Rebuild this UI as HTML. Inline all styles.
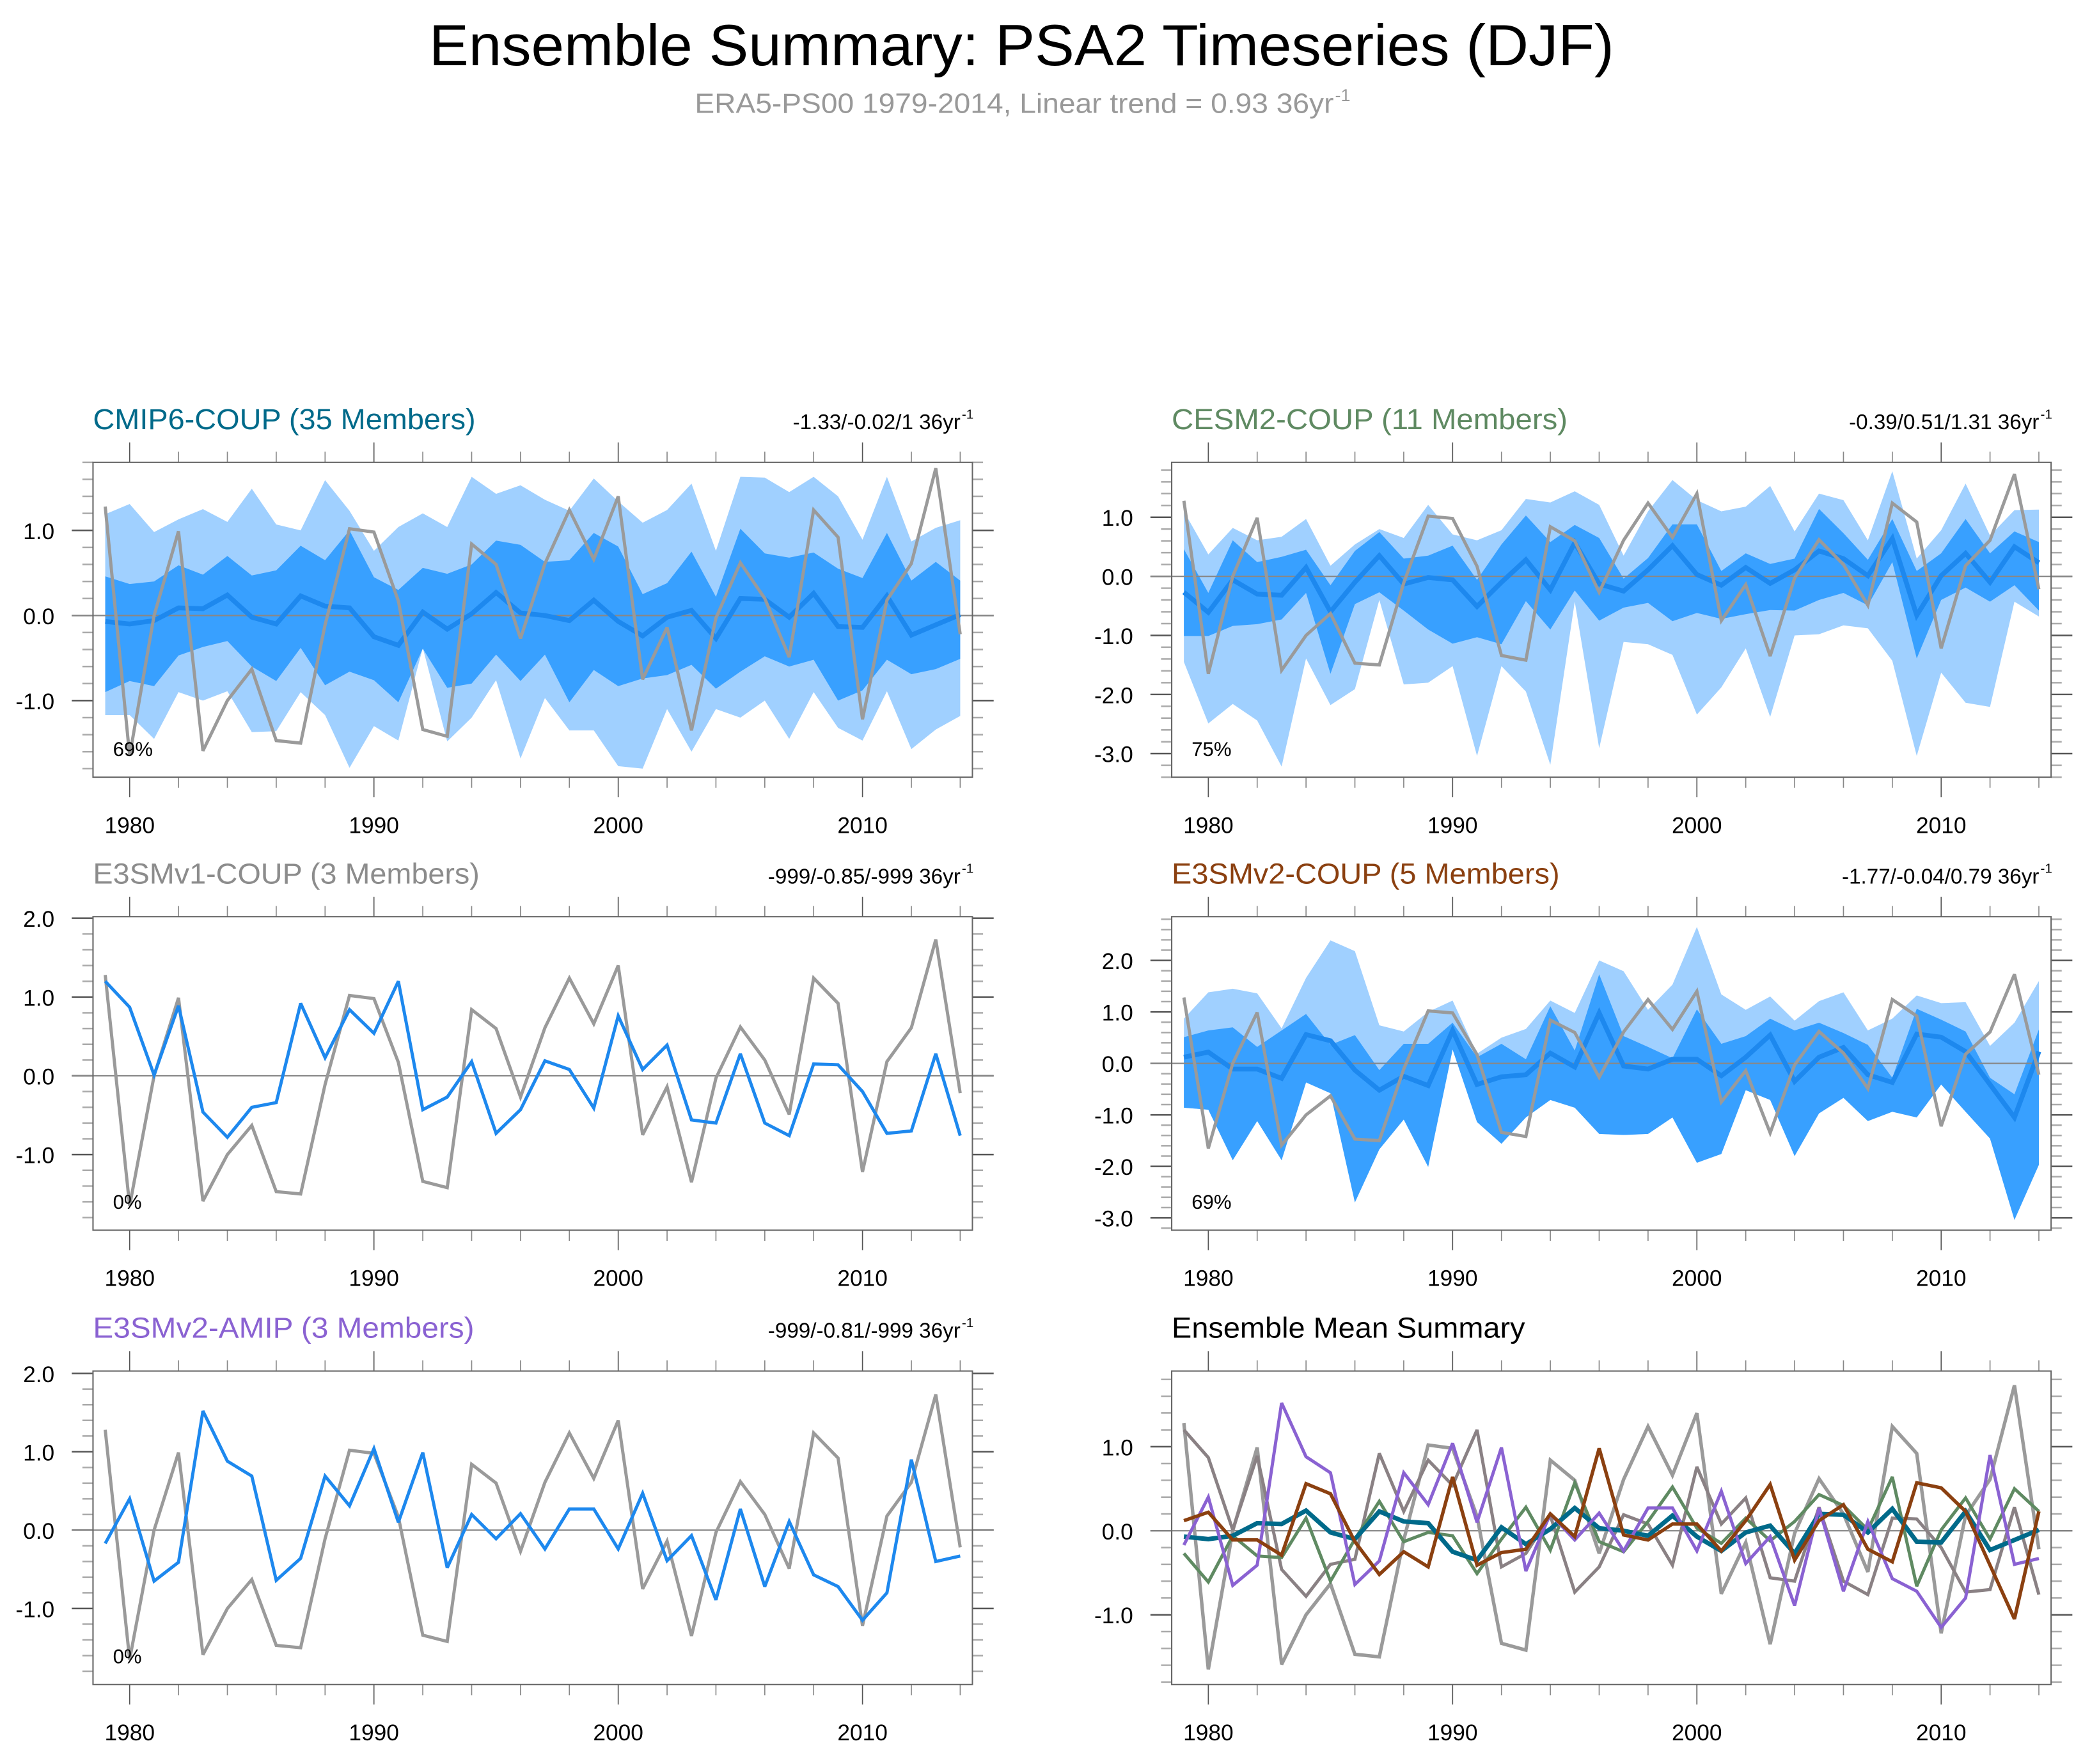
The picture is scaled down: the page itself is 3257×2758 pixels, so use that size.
<!DOCTYPE html>
<html><head><meta charset="utf-8"><title>Ensemble Summary: PSA2 Timeseries (DJF)</title>
<style>html,body{margin:0;padding:0;background:#fff}svg{display:block}text{font-family:"Liberation Sans",Arial,sans-serif}</style>
</head><body>
<svg id="fig" xmlns="http://www.w3.org/2000/svg" width="3257" height="2758" viewBox="0 0 1568 1327.8">
<rect x="0" y="0" width="1568" height="1328" fill="#fff"/>
<text x="769" y="49" font-size="44" text-anchor="middle" textLength="892" lengthAdjust="spacingAndGlyphs">Ensemble Summary: PSA2 Timeseries (DJF)</text>
<text x="523" y="85" font-size="21" fill="#999" textLength="481" lengthAdjust="spacingAndGlyphs">ERA5-PS00 1979-2014, Linear trend = 0.93 36yr</text>
<text x="1005" y="76" font-size="13" fill="#999">-1</text>
<g id="panels"></g>
</svg>
<script>
const years=[1979,1980,1981,1982,1983,1984,1985,1986,1987,1988,1989,1990,1991,1992,1993,1994,1995,1996,1997,1998,1999,2000,2001,2002,2003,2004,2005,2006,2007,2008,2009,2010,2011,2012,2013,2014];
const obs=[1.28,-1.65,0.0,0.99,-1.59,-1.0,-0.63,-1.47,-1.5,-0.11,1.02,0.98,0.17,-1.34,-1.42,0.84,0.6,-0.27,0.61,1.24,0.66,1.4,-0.75,-0.14,-1.35,-0.03,0.62,0.2,-0.49,1.24,0.92,-1.22,0.18,0.61,1.73,-0.22];
const cmip6Mean=[-0.07,-0.1,-0.06,0.09,0.08,0.24,-0.02,-0.1,0.23,0.11,0.09,-0.25,-0.35,0.04,-0.16,0.02,0.27,0.03,0.0,-0.06,0.18,-0.07,-0.24,-0.02,0.06,-0.27,0.2,0.19,-0.02,0.26,-0.13,-0.14,0.23,-0.23,-0.11,0.01];
const cmip6DarkHi=[0.46,0.37,0.4,0.59,0.48,0.70,0.47,0.53,0.82,0.65,1.0,0.45,0.3,0.56,0.49,0.6,0.88,0.83,0.63,0.65,0.97,0.81,0.25,0.38,0.75,0.22,1.02,0.73,0.68,0.74,0.55,0.44,0.97,0.41,0.63,0.41];
const cmip6DarkLo=[-0.9,-0.77,-0.83,-0.47,-0.37,-0.3,-0.6,-0.77,-0.38,-0.82,-0.66,-0.76,-1.02,-0.39,-0.85,-0.8,-0.46,-0.77,-0.46,-1.02,-0.64,-0.83,-0.74,-0.7,-0.58,-0.86,-0.66,-0.48,-0.6,-0.52,-1.0,-0.88,-0.52,-0.69,-0.63,-0.51];
const cmip6LightHi=[1.19,1.31,0.98,1.13,1.25,1.1,1.49,1.07,1.0,1.59,1.23,0.76,1.04,1.2,1.04,1.63,1.43,1.53,1.36,1.23,1.61,1.34,1.09,1.24,1.55,0.76,1.63,1.62,1.45,1.63,1.4,0.89,1.63,0.87,1.03,1.12];
const cmip6LightLo=[-1.17,-1.17,-1.45,-0.9,-1.0,-0.89,-1.37,-1.36,-0.9,-1.17,-1.79,-1.3,-1.47,-0.38,-1.48,-1.2,-0.76,-1.68,-0.97,-1.35,-1.35,-1.77,-1.8,-1.1,-1.6,-1.1,-1.2,-1.0,-1.45,-0.9,-1.32,-1.47,-0.89,-1.57,-1.34,-1.18];
const cesm2Mean=[-0.27,-0.61,-0.06,-0.3,-0.32,0.15,-0.6,-0.1,0.35,-0.13,-0.02,-0.06,-0.51,-0.1,0.28,-0.23,0.57,-0.13,-0.25,0.11,0.52,0.03,-0.15,0.15,-0.12,0.11,0.43,0.3,0.01,0.64,-0.66,0.01,0.39,-0.1,0.5,0.23];
const cesm2DarkHi=[0.46,-0.28,0.61,0.24,0.33,0.45,-0.15,0.43,0.75,0.3,0.35,0.52,-0.06,0.54,1.03,0.58,0.87,0.65,-0.04,0.31,0.88,0.88,0.09,0.39,0.21,0.3,1.14,0.73,0.28,0.97,0.09,0.39,0.97,0.39,0.76,0.58];
const cesm2DarkLo=[-1.01,-1.01,-0.84,-0.81,-0.73,-0.28,-1.65,-0.47,-0.27,-0.58,-0.9,-1.14,-1.03,-1.15,-0.42,-0.9,-0.24,-0.75,-0.53,-0.45,-0.76,-0.62,-0.72,-0.64,-0.57,-0.58,-0.4,-0.28,-0.49,0.24,-1.39,-0.4,-0.19,-0.43,-0.15,-0.58];
const cesm2LightHi=[1.1,0.37,0.82,0.61,0.67,0.97,0.18,0.54,0.8,0.65,1.21,0.71,0.61,0.78,1.31,1.25,1.44,1.21,0.35,1.1,1.63,1.29,1.1,1.18,1.53,0.76,1.4,1.29,0.61,1.78,0.3,0.78,1.57,0.69,1.12,1.13];
const cesm2LightLo=[-1.45,-2.49,-2.16,-2.44,-3.22,-1.39,-2.18,-1.91,-0.4,-1.83,-1.8,-1.52,-3.04,-1.52,-1.95,-3.19,-0.43,-2.91,-1.11,-1.15,-1.33,-2.34,-1.88,-1.22,-2.38,-1.0,-0.98,-0.83,-0.88,-1.43,-3.04,-1.63,-2.14,-2.21,-0.43,-0.68];
const e3smv1Mean=[1.2,0.87,0.01,0.89,-0.46,-0.78,-0.4,-0.34,0.92,0.23,0.84,0.54,1.2,-0.43,-0.27,0.18,-0.73,-0.43,0.19,0.08,-0.41,0.76,0.08,0.39,-0.56,-0.6,0.28,-0.6,-0.76,0.15,0.14,-0.2,-0.73,-0.7,0.28,-0.76];
const e3smv2Mean=[0.12,0.22,-0.11,-0.11,-0.29,0.56,0.44,-0.13,-0.52,-0.25,-0.43,0.64,-0.41,-0.26,-0.22,0.2,-0.07,0.98,-0.05,-0.11,0.08,0.08,-0.24,0.12,0.55,-0.35,0.12,0.31,-0.22,-0.37,0.57,0.51,0.23,-0.41,-1.05,0.23];
const e3smv2DarkHi=[0.51,0.64,0.7,0.32,0.64,0.96,0.36,0.55,-0.13,0.38,0.38,0.79,0.12,0.38,0.08,1.11,0.25,1.73,0.53,0.32,0.1,1.05,0.38,0.53,0.87,0.64,0.79,0.59,0.36,-0.28,1.06,0.85,0.62,-0.28,-0.6,0.66];
const e3smv2DarkLo=[-0.86,-0.9,-1.88,-1.12,-1.88,-0.37,-0.58,-2.7,-1.67,-1.09,-2.01,0.27,-1.14,-1.56,-1.05,-0.71,-0.86,-1.37,-1.39,-1.37,-1.05,-1.93,-1.76,-0.52,-0.71,-1.8,-0.97,-0.67,-1.12,-0.94,-1.05,-0.41,-0.94,-1.46,-3.04,-1.97];
const e3smv2LightHi=[0.87,1.38,1.45,1.36,0.68,1.66,2.39,2.18,0.74,0.62,1.0,1.22,0.19,0.5,0.67,1.22,0.98,2.0,1.79,1.04,1.53,2.65,1.34,1.04,1.3,0.83,1.21,1.38,0.64,0.87,1.32,1.17,1.19,0.34,0.79,1.6];
const e3smv2LightLo=e3smv2DarkLo;
const amipMean=[-0.17,0.4,-0.65,-0.41,1.52,0.88,0.69,-0.64,-0.36,0.69,0.31,1.04,0.1,0.99,-0.48,0.2,-0.11,0.21,-0.24,0.27,0.27,-0.24,0.47,-0.39,-0.07,-0.89,0.27,-0.72,0.11,-0.57,-0.72,-1.15,-0.8,0.9,-0.4,-0.33];
const xTickLabels=[1980,1990,2000,2010];

const NS='http://www.w3.org/2000/svg';
const root=document.getElementById('panels');
function mk(tag,attrs,parent){const e=document.createElementNS(NS,tag);for(const k in attrs)e.setAttribute(k,attrs[k]);(parent||root).appendChild(e);return e;}
const C={light:'#a0d0ff',dark:'#38a0ff',mean:'#1d88ee',obs:'#9a9a9a',teal:'#006a8a',green:'#5f8a62',taupe:'#8a8184',brown:'#8b4010',purple:'#8a62d2'};

const panels=[
 {id:'cmip6',x0:70,x1:732,y0:348,y1:585,ymin:-1.9,ymax:1.8,yl:[1,0,-1],title:'CMIP6-COUP (35 Members)',tc:C.teal,tw:288,right:'-1.33/-0.02/1 36yr',pct:'69%',bands:[cmip6LightHi,cmip6LightLo,cmip6DarkHi,cmip6DarkLo],mean:cmip6Mean},
 {id:'cesm2',x0:882,x1:1544,y0:348,y1:585,ymin:-3.4,ymax:1.93,yl:[1,0,-1,-2,-3],title:'CESM2-COUP (11 Members)',tc:C.green,tw:298,right:'-0.39/0.51/1.31 36yr',pct:'75%',bands:[cesm2LightHi,cesm2LightLo,cesm2DarkHi,cesm2DarkLo],mean:cesm2Mean},
 {id:'e3smv1',x0:70,x1:732,y0:690,y1:926,ymin:-1.96,ymax:2.02,yl:[2,1,0,-1],title:'E3SMv1-COUP (3 Members)',tc:'#8c8c8c',tw:291,right:'-999/-0.85/-999 36yr',pct:'0%',mean2:e3smv1Mean},
 {id:'e3smv2',x0:882,x1:1544,y0:690,y1:926,ymin:-3.24,ymax:2.85,yl:[2,1,0,-1,-2,-3],title:'E3SMv2-COUP (5 Members)',tc:C.brown,tw:292,right:'-1.77/-0.04/0.79 36yr',pct:'69%',bands:[e3smv2LightHi,e3smv2LightLo,e3smv2DarkHi,e3smv2DarkLo],mean:e3smv2Mean},
 {id:'amip',x0:70,x1:732,y0:1032,y1:1268,ymin:-1.97,ymax:2.03,yl:[2,1,0,-1],title:'E3SMv2-AMIP (3 Members)',tc:C.purple,tw:287,right:'-999/-0.81/-999 36yr',pct:'0%',mean2:amipMean},
 {id:'summary',x0:882,x1:1544,y0:1032,y1:1268,ymin:-1.83,ymax:1.9,yl:[1,0,-1],title:'Ensemble Mean Summary',tc:'#000',tw:266,summary:true}
];

panels.forEach(p=>{
 const g=mk('g',{});
 
 
 const X=v=>p.x0+(v-1978.5)/36*(p.x1-p.x0);
 const Y=v=>p.y1-(v-p.ymin)/(p.ymax-p.ymin)*(p.y1-p.y0);
 const line=(arr,color,w,name)=>{const d=arr.map((v,i)=>(i?'L':'M')+X(years[i]).toFixed(2)+' '+Y(v).toFixed(2)).join(' ');const e=mk('path',{d:d,fill:'none',stroke:color,'stroke-width':w,'stroke-linejoin':'miter','stroke-miterlimit':3},g);};
 const band=(hi,lo,color,name)=>{let d=hi.map((v,i)=>(i?'L':'M')+X(years[i]).toFixed(2)+' '+Y(v).toFixed(2)).join(' ');for(let i=lo.length-1;i>=0;i--)d+=' L'+X(years[i]).toFixed(2)+' '+Y(lo[i]).toFixed(2);d+=' Z';const e=mk('path',{d:d,fill:color},g);};
 const t=mk('text',{x:p.x0,y:p.y0-25,'font-size':22,fill:p.tc,textLength:p.tw,lengthAdjust:'spacingAndGlyphs'},g);t.textContent=p.title;
 
 if(p.right){const r=mk('text',{x:p.x1-9,y:p.y0-25,'font-size':16,'text-anchor':'end'},g);r.textContent=p.right;
  
  const s=mk('text',{x:p.x1-8,y:p.y0-33,'font-size':10},g);s.textContent='-1';
  }
 const tg=mk('g',{},g);
 
 for(let yr=1980;yr<=2014;yr+=2){const major=(yr%10===0);const L=major?15:8;const c=major?'#555':'#888';
  mk('line',{x1:X(yr),x2:X(yr),y1:p.y0,y2:p.y0-L,stroke:c,'stroke-width':0.8},tg);
  mk('line',{x1:X(yr),x2:X(yr),y1:p.y1,y2:p.y1+L,stroke:c,'stroke-width':0.8},tg);}
 const start=Math.ceil(p.ymin*5-1e-6),end=Math.floor(p.ymax*5+1e-6);
 for(let k=start;k<=end;k++){const v=k/5;const major=(k%5===0);const L=major?16:8;const c=major?'#555':'#aaa';
  mk('line',{x1:p.x0,x2:p.x0-L,y1:Y(v),y2:Y(v),stroke:c,'stroke-width':1.2},tg);
  mk('line',{x1:p.x1,x2:p.x1+L,y1:Y(v),y2:Y(v),stroke:c,'stroke-width':1.2},tg);}
 p.yl.forEach(v=>{const e=mk('text',{x:p.x0-29,y:Y(v)+6.5,'font-size':17,'text-anchor':'end'},g);e.textContent=v.toFixed(1);
  });
 xTickLabels.forEach(v=>{const e=mk('text',{x:X(v),y:p.y1+42,'font-size':17,'text-anchor':'middle'},g);e.textContent=String(v);
  });
 if(p.bands){band(p.bands[0],p.bands[1],C.light,p.id+'-outer-spread');band(p.bands[2],p.bands[3],C.dark,p.id+'-inner-spread');}
 const zl=mk('line',{x1:p.x0-16,x2:p.x1+16,y1:Y(0),y2:Y(0),stroke:'#888','stroke-width':1.1},g);
 
 if(p.summary){
  line(obs,C.obs,2.6,'obs-line');
  line(e3smv1Mean,C.taupe,2.4,'e3smv1-mean-line');
  line(cesm2Mean,C.green,2.4,'cesm2-mean-line');
  line(cmip6Mean,C.teal,3.4,'cmip6-mean-line');
  line(amipMean,C.purple,2.4,'amip-mean-line');
  line(e3smv2Mean,C.brown,2.6,'e3smv2-mean-line');
 } else {
  if(p.mean){line(p.mean,C.mean,3.6,p.id+'-ensemble-mean-line');}
  line(obs,C.obs,2.4,p.id+'-obs-line');
  if(p.mean2){line(p.mean2,C.mean,2.4,p.id+'-ensemble-mean-line');}
 }
 const fr=mk('rect',{x:p.x0,y:p.y0,width:p.x1-p.x0,height:p.y1-p.y0,fill:'none',stroke:'#666','stroke-width':1},g);
 
 if(p.pct){const e=mk('text',{x:p.x0+15,y:p.y1-16,'font-size':15},g);e.textContent=p.pct;
  }
});
</script>
</body></html>
